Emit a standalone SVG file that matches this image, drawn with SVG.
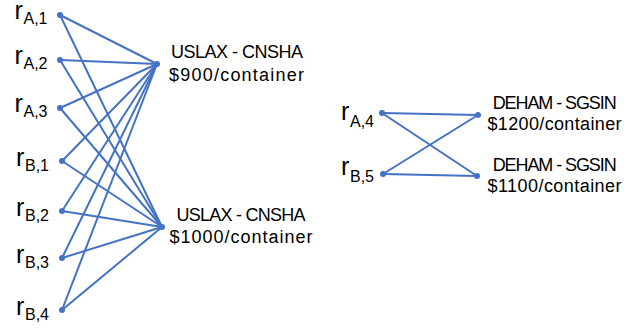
<svg xmlns="http://www.w3.org/2000/svg" width="639" height="330" viewBox="0 0 639 330">
<style>
.bg{fill:#ffffff}
.e{stroke:#4472C4;stroke-width:2;fill:none;stroke-linecap:round}
.d{fill:#4472C4}
.r{font-family:"Liberation Sans",Arial,sans-serif;font-size:25px;fill:#000}
.s{font-family:"Liberation Sans",Arial,sans-serif;font-size:16px;fill:#000}
.l{font-family:"Liberation Sans",Arial,sans-serif;font-size:18px;fill:#000;text-anchor:middle}
</style>
<rect class="bg" x="0" y="0" width="639" height="330"/>
<g id="connectors">
<line class="e" x1="60" y1="15" x2="157" y2="64"/>
<line class="e" x1="60" y1="15" x2="162" y2="227"/>
<line class="e" x1="60" y1="60" x2="157" y2="64"/>
<line class="e" x1="60" y1="60" x2="162" y2="227"/>
<line class="e" x1="60" y1="108" x2="157" y2="64"/>
<line class="e" x1="60" y1="108" x2="162" y2="227"/>
<line class="e" x1="62" y1="161" x2="157" y2="64"/>
<line class="e" x1="62" y1="161" x2="162" y2="227"/>
<line class="e" x1="62" y1="211" x2="157" y2="64"/>
<line class="e" x1="62" y1="211" x2="162" y2="227"/>
<line class="e" x1="62" y1="258" x2="157" y2="64"/>
<line class="e" x1="62" y1="258" x2="162" y2="227"/>
<line class="e" x1="62" y1="310" x2="157" y2="64"/>
<line class="e" x1="62" y1="310" x2="162" y2="227"/>
<line class="e" x1="382" y1="113" x2="478" y2="115"/>
<line class="e" x1="382" y1="113" x2="477" y2="176"/>
<line class="e" x1="383" y1="174" x2="478" y2="115"/>
<line class="e" x1="383" y1="174" x2="477" y2="176"/>
</g>
<g id="rA1"><circle class="d" cx="60" cy="15" r="3"/><text class="r" x="14.5" y="19">r</text><text class="s" x="23.5" y="24">A,1</text></g>
<g id="rA2"><circle class="d" cx="60" cy="60" r="3"/><text class="r" x="14.5" y="64">r</text><text class="s" x="23.5" y="69">A,2</text></g>
<g id="rA3"><circle class="d" cx="60" cy="108" r="3"/><text class="r" x="14.5" y="112">r</text><text class="s" x="23.5" y="117">A,3</text></g>
<g id="rB1"><circle class="d" cx="62" cy="161" r="3"/><text class="r" x="16" y="166">r</text><text class="s" x="25" y="171">B,1</text></g>
<g id="rB2"><circle class="d" cx="62" cy="211" r="3"/><text class="r" x="16" y="216">r</text><text class="s" x="25" y="221">B,2</text></g>
<g id="rB3"><circle class="d" cx="62" cy="258" r="3"/><text class="r" x="16" y="263">r</text><text class="s" x="25" y="268">B,3</text></g>
<g id="rB4"><circle class="d" cx="62" cy="310" r="3"/><text class="r" x="16" y="315">r</text><text class="s" x="25" y="320">B,4</text></g>
<g id="hub1"><circle class="d" cx="157" cy="64" r="3"/><text class="l" x="237" y="58" textLength="132">USLAX - CNSHA</text><text class="l" x="236.5" y="81" textLength="135">$900/container</text></g>
<g id="hub2"><circle class="d" cx="162" cy="227" r="3"/><text class="l" x="241" y="221" textLength="129">USLAX - CNSHA</text><text class="l" x="241" y="243" textLength="143">$1000/container</text></g>
<g id="rA4"><circle class="d" cx="382" cy="113" r="3"/><text class="r" x="341" y="120">r</text><text class="s" x="350" y="126.5">A,4</text></g>
<g id="rB5"><circle class="d" cx="383" cy="174" r="3"/><text class="r" x="341" y="175">r</text><text class="s" x="350" y="181.5">B,5</text></g>
<g id="deham1"><circle class="d" cx="478" cy="115" r="3"/><text class="l" x="554.7" y="109" textLength="124">DEHAM - SGSIN</text><text class="l" x="554.5" y="130" textLength="134">$1200/container</text></g>
<g id="deham2"><circle class="d" cx="477" cy="176" r="3"/><text class="l" x="554.7" y="171" textLength="124">DEHAM - SGSIN</text><text class="l" x="554.5" y="192" textLength="134">$1100/container</text></g>
</svg>
